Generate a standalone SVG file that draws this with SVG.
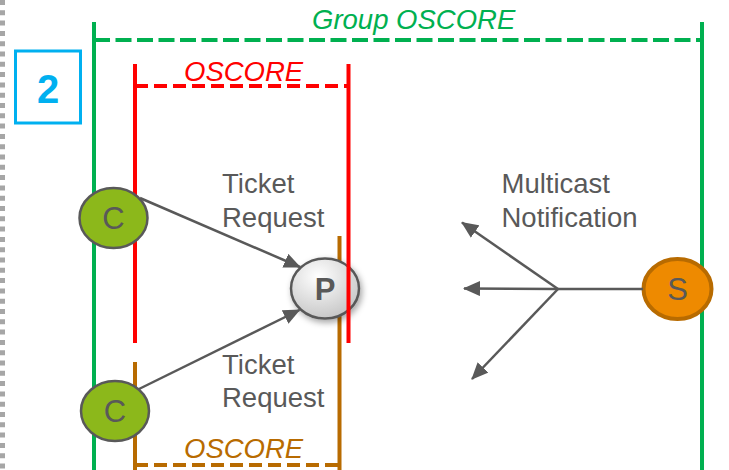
<svg xmlns="http://www.w3.org/2000/svg" width="729" height="470" viewBox="0 0 729 470">
<style>
  .lbl{font-family:"Liberation Sans",Arial,sans-serif;font-size:27.5px;fill:#595959}
  .it{font-family:"Liberation Sans",Arial,sans-serif;font-size:27.5px;font-style:italic}
  .node{stroke:#595959;stroke-width:2.5}
  .ntxt{font-family:"Liberation Sans",Arial,sans-serif;font-size:31px;fill:#595959;text-anchor:middle}
  .arr{stroke:#595959;stroke-width:2.5;fill:none;marker-end:url(#ah)}
  .grn{stroke:#00B050;stroke-width:4;fill:none}
  .red{stroke:#FF0000;stroke-width:4;fill:none}
  .brn{stroke:#B86B00;stroke-width:4;fill:none}
</style>
<defs>
  <marker id="ah" markerUnits="userSpaceOnUse" markerWidth="17" markerHeight="15" refX="16" refY="7.5" orient="auto">
    <path d="M0,0 L17,7.5 L0,15 z" fill="#595959"/>
  </marker>
  <radialGradient id="pg" cx="0.4" cy="0.3" r="0.75">
    <stop offset="0" stop-color="#FFFFFF"/>
    <stop offset="1" stop-color="#C4C4C4"/>
  </radialGradient>
  <filter id="sh" x="-30%" y="-30%" width="170%" height="170%">
    <feDropShadow dx="2" dy="3" stdDeviation="3" flood-color="#000" flood-opacity="0.35"/>
  </filter>
</defs>
<rect width="729" height="470" fill="#FFFFFF"/>

<!-- left dotted border -->
<line x1="2.5" y1="0" x2="2.5" y2="470" stroke="#A6A6A6" stroke-width="5" stroke-dasharray="5 5.3"/>

<!-- step box -->
<g id="step">
  <rect x="15.5" y="51" width="65" height="72" fill="none" stroke="#00B0F0" stroke-width="3"/>
  <text x="48" y="103" font-family="Liberation Sans,Arial,sans-serif" font-size="40" font-weight="bold" fill="#00B0F0" text-anchor="middle">2</text>
</g>

<!-- group OSCORE boundary -->
<g id="groupOscore">
  <line class="grn" x1="94" y1="22" x2="94" y2="470"/>
  <line class="grn" x1="702" y1="22" x2="702" y2="470"/>
  <line class="grn" x1="94" y1="40" x2="702" y2="40" stroke-dasharray="16 5.5"/>
  <text class="it" x="312" y="29" fill="#00B050">Group OSCORE</text>
</g>

<!-- lower (brown) OSCORE boundary -->
<g id="oscoreBottom">
  <line class="brn" x1="135" y1="362" x2="135" y2="470"/>
  <line class="brn" x1="339.5" y1="236" x2="339.5" y2="470"/>
  <line class="brn" x1="135" y1="465" x2="339.5" y2="465" stroke-dasharray="13 6"/>
  <text class="it" x="184" y="458" fill="#B86B00">OSCORE</text>
</g>

<!-- proxy -->
<g id="P">
  <ellipse cx="325" cy="288.5" rx="34" ry="30" fill="url(#pg)" class="node" filter="url(#sh)"/>
  <text class="ntxt" x="325" y="299.5" font-weight="bold">P</text>
</g>

<!-- upper (red) OSCORE boundary -->
<g id="oscoreTop">
  <line class="red" x1="135" y1="64" x2="135" y2="343"/>
  <line class="red" x1="348.5" y1="64" x2="348.5" y2="343"/>
  <line class="red" x1="135" y1="86" x2="348.5" y2="86" stroke-dasharray="13 6"/>
  <text class="it" x="184" y="81" fill="#FF0000">OSCORE</text>
</g>

<!-- clients -->
<g id="C1">
  <ellipse cx="113.5" cy="218" rx="34" ry="30" fill="#8CB81B" class="node"/>
  <text class="ntxt" x="113.5" y="229">C</text>
</g>
<g id="C2">
  <ellipse cx="115" cy="411" rx="34" ry="30" fill="#8CB81B" class="node"/>
  <text class="ntxt" x="115" y="422">C</text>
</g>

<!-- server -->
<g id="S">
  <ellipse cx="677.5" cy="289" rx="34" ry="30" fill="#EE8A00" stroke="#B86B00" stroke-width="4"/>
  <text class="ntxt" x="677.5" y="300">S</text>
</g>

<!-- connectors -->
<g id="connectors">
  <line class="arr" x1="140" y1="198" x2="300" y2="267"/>
  <line class="arr" x1="139" y1="389" x2="299.5" y2="310"/>
  <line x1="643" y1="289" x2="558" y2="289" stroke="#595959" stroke-width="2.5"/>
  <line class="arr" x1="558" y1="289" x2="462" y2="222.5"/>
  <line class="arr" x1="558" y1="289" x2="464" y2="288.5"/>
  <line class="arr" x1="558" y1="289" x2="472" y2="379"/>
</g>

<!-- labels -->
<g id="labels">
  <text class="lbl" x="222" y="193">Ticket</text>
  <text class="lbl" x="222" y="226.5">Request</text>
  <text class="lbl" x="222" y="374">Ticket</text>
  <text class="lbl" x="222" y="407">Request</text>
  <text class="lbl" x="501.5" y="193">Multicast</text>
  <text class="lbl" x="501.5" y="226.5">Notification</text>
</g>
</svg>
